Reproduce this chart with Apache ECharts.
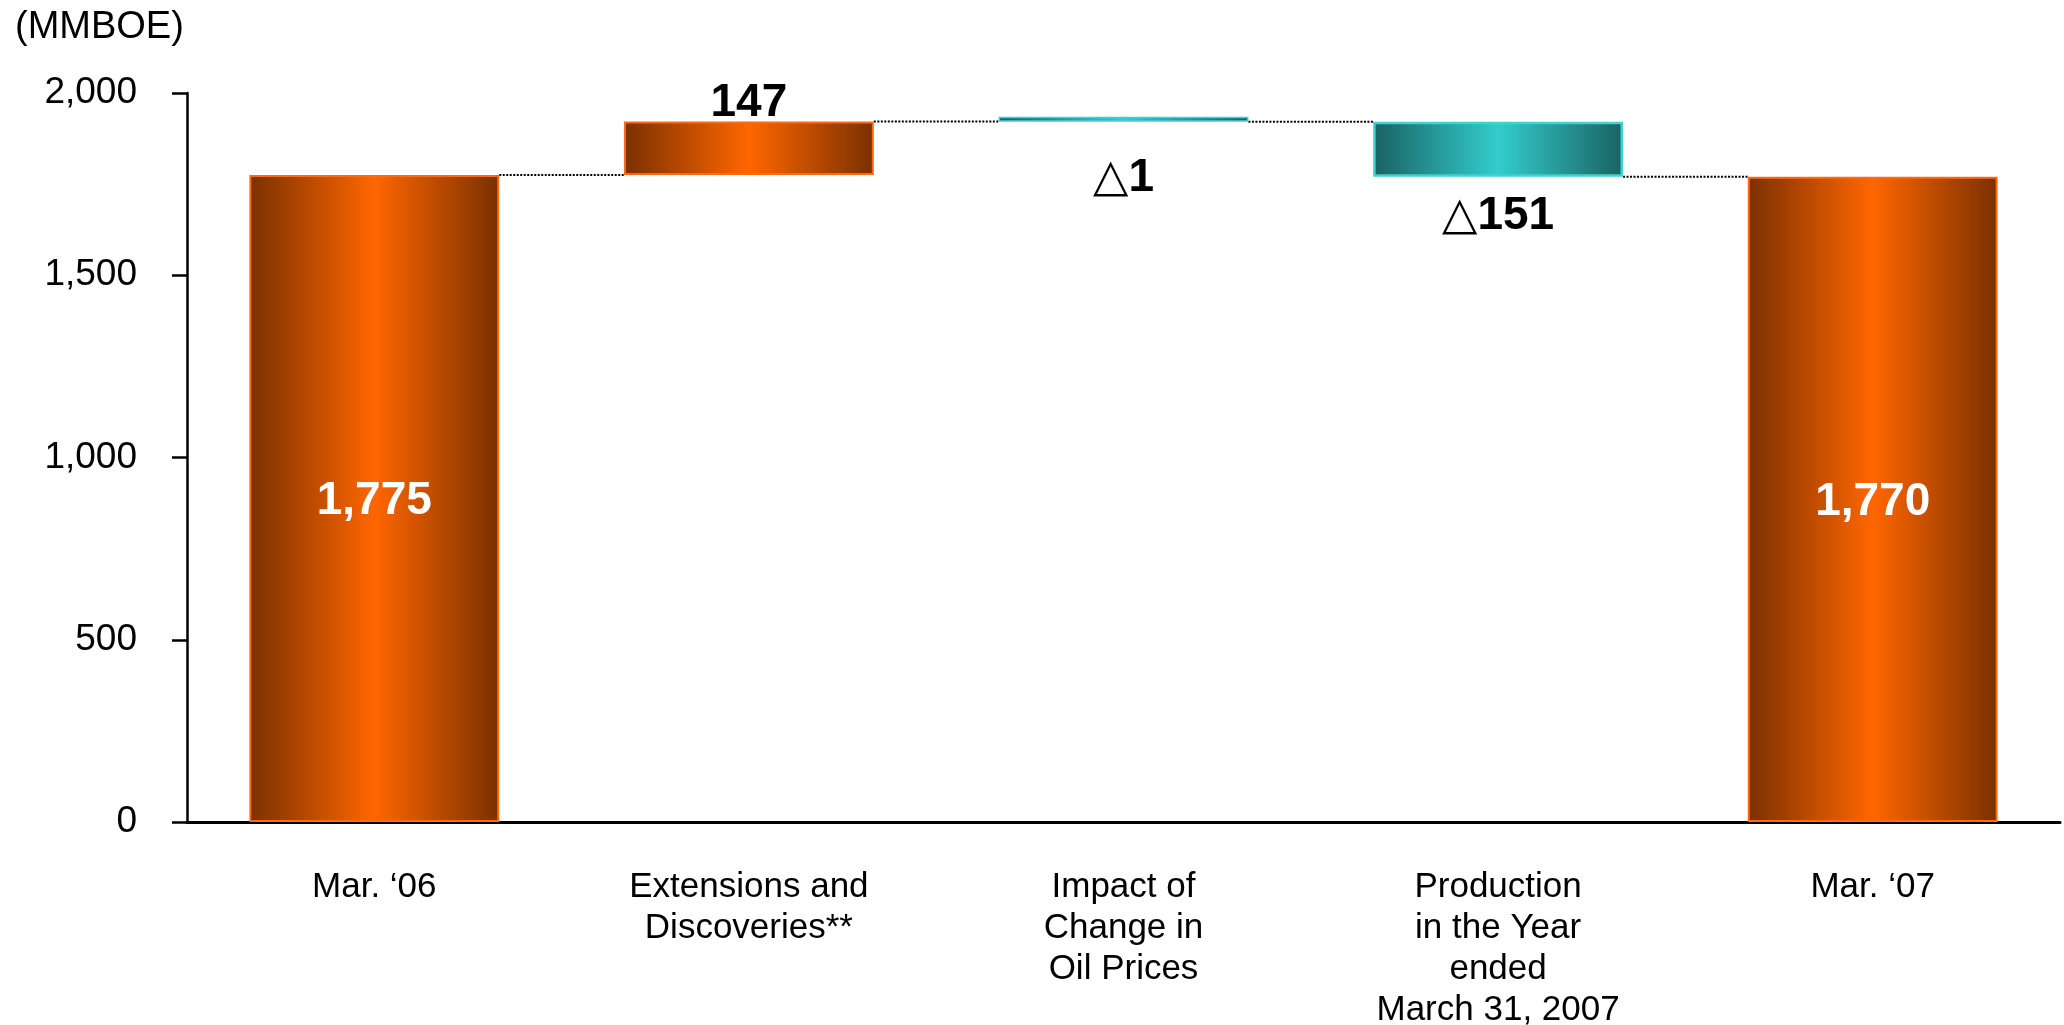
<!DOCTYPE html>
<html>
<head>
<meta charset="utf-8">
<script src="https://cdn.jsdelivr.net/npm/echarts@6/dist/echarts.min.js"></script>
<style>
  html, body { margin: 0; padding: 0; background: #ffffff; }
  #chart { width: 2064px; height: 1025px; }
</style>
</head>
<body>
<div id="chart"></div>
<script>
// ---- data ----
const categories = [
  'Mar. \u201806',
  'Extensions and\nDiscoveries**',
  'Impact of\nChange in\nOil Prices',
  'Production\nin the Year\nended\nMarch 31, 2007',
  'Mar. \u201807'
];
const startValue = 1775;
const deltas = [147, -1, -151];
const endValue = 1770;
const yTicks = [0, 500, 1000, 1500, 2000];
const unitLabel = '(MMBOE)';

// ---- derived waterfall structure ----
const n = categories.length;
const baseData = new Array(n).fill('-');
const totalData = new Array(n).fill('-');
const incData = new Array(n).fill('-');
const decData = new Array(n).fill('-');
const connectors = []; // [categoryIndex, level] : dotted line from bar i to bar i+1

baseData[0] = 0;
totalData[0] = startValue;
let running = startValue;
connectors.push([0, running]);
deltas.forEach((d, k) => {
  const i = k + 1;
  if (d >= 0) {
    baseData[i] = running;
    incData[i] = d;
  } else {
    baseData[i] = running + d;
    decData[i] = -d;
  }
  running += d;
  connectors.push([i, running]);
});
baseData[n - 1] = 0;
totalData[n - 1] = endValue;

const BAR_FRAC = 0.667;
const FONT = "'Liberation Sans', Arial, 'DejaVu Sans', sans-serif";

function hGrad(edge, center) {
  return new echarts.graphic.LinearGradient(0, 0, 1, 0, [
    { offset: 0, color: edge },
    { offset: 0.5, color: center },
    { offset: 1, color: edge }
  ]);
}

const decLabelGap = [null, null, 34, 16, null];
const decBorder = [null, null, 1.5, 2.5, null];

const chart = echarts.init(document.getElementById('chart'), null, { renderer: 'canvas' });
chart.setOption({
  animation: false,
  backgroundColor: '#ffffff',
  title: {
    text: unitLabel,
    left: 10,
    top: 4,
    textStyle: { fontFamily: FONT, fontSize: 38, fontWeight: 'normal', color: '#000' }
  },
  grid: { left: 187, right: 4, top: 93, bottom: 203, containLabel: false, outerBoundsMode: 'none' },
  xAxis: {
    type: 'category',
    data: categories,
    axisLine: { show: true, lineStyle: { color: '#000', width: 3 } },
    axisTick: { show: false },
    axisLabel: {
      interval: 0,
      margin: 45,
      fontFamily: FONT,
      fontSize: 35,
      lineHeight: 41,
      color: '#000',
      align: 'center'
    }
  },
  yAxis: {
    type: 'value',
    min: yTicks[0],
    max: yTicks[yTicks.length - 1],
    interval: yTicks[1] - yTicks[0],
    axisLine: { show: true, lineStyle: { color: '#000', width: 2.5 } },
    axisTick: { show: true, length: 15, lineStyle: { color: '#000', width: 2.5 } },
    splitLine: { show: false },
    axisLabel: {
      margin: 50,
      fontFamily: FONT,
      fontSize: 37,
      color: '#000',
      formatter: v => v.toLocaleString('en-US')
    }
  },
  series: [
    {
      name: 'base',
      type: 'bar',
      stack: 'w',
      silent: true,
      barWidth: (BAR_FRAC * 100) + '%',
      itemStyle: { color: 'rgba(0,0,0,0)', borderWidth: 0 },
      emphasis: { disabled: true },
      data: baseData
    },
    {
      name: 'total',
      type: 'bar',
      stack: 'w',
      itemStyle: { color: hGrad('#7a3000', '#ff6600'), borderColor: '#ff6a10', borderWidth: 2 },
      label: {
        show: true,
        position: 'inside',
        offset: [0, 3],
        color: '#ffffff',
        fontFamily: FONT,
        fontSize: 46,
        fontWeight: 'bold',
        formatter: p => p.value.toLocaleString('en-US')
      },
      data: totalData
    },
    {
      name: 'increase',
      type: 'bar',
      stack: 'w',
      itemStyle: { color: hGrad('#7a3000', '#ff6600'), borderColor: '#ff6a10', borderWidth: 2 },
      label: {
        show: true,
        position: 'top',
        distance: -5,
        color: '#000',
        fontFamily: FONT,
        fontSize: 46,
        fontWeight: 'bold',
        formatter: p => p.value.toLocaleString('en-US')
      },
      data: incData
    },
    {
      name: 'decrease',
      type: 'bar',
      stack: 'w',
      barMinHeight: 5,
      itemStyle: { color: hGrad('#1a6262', '#33cccc'), borderColor: '#3fd2d2', borderWidth: 2.5 },
      label: {
        show: true,
        position: 'bottom',
        color: '#000',
        fontFamily: FONT,
        fontSize: 46,
        fontWeight: 'bold',
        formatter: p => '\u25B3' + p.value.toLocaleString('en-US')
      },
      data: decData.map((v, i) => v === '-' ? '-' : {
        value: v,
        label: { distance: decLabelGap[i] },
        itemStyle: { borderWidth: decBorder[i] }
      })
    },
    {
      name: 'connectors',
      type: 'custom',
      silent: true,
      z: 1,
      encode: { x: 0, y: 1 },
      data: connectors,
      renderItem: function (params, api) {
        const i = api.value(0);
        const lvl = api.value(1);
        const p0 = api.coord([i, lvl]);
        const p1 = api.coord([i + 1, lvl]);
        const bw = api.size([1, 0])[0] * BAR_FRAC;
        return {
          type: 'line',
          shape: { x1: p0[0] + bw / 2, y1: p0[1], x2: p1[0] - bw / 2, y2: p1[1] },
          style: { stroke: '#000', lineWidth: 2, lineDash: [2, 1.5] }
        };
      }
    }
  ]
});
</script>
</body>
</html>
